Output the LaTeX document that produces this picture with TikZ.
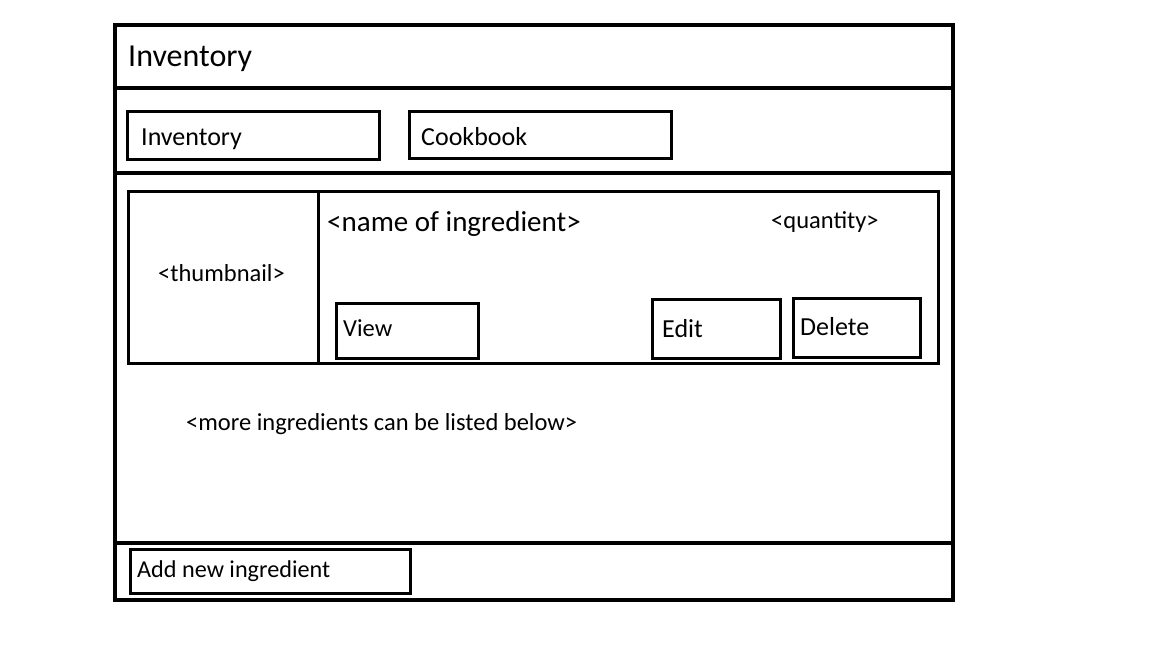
\documentclass[tikz,border=0pt]{standalone}
\usepackage{fontspec}
\setmainfont{Carlito}
\begin{document}
\begin{tikzpicture}[x=1pt,y=-1pt,
  frame/.style={draw=black,line width=4.3pt},
  box/.style={draw=black,line width=3pt},
  lbl/.style={anchor=base west,inner sep=0pt,text=black},
  big/.style={font=\fontsize{32}{36}\selectfont},
  mid/.style={font=\fontsize{26}{30}\selectfont},
  nam/.style={font=\fontsize{29}{33}\selectfont},
  sml/.style={font=\fontsize{24.5}{28}\selectfont},
  add/.style={font=\fontsize{24.2}{28}\selectfont}]
\useasboundingbox[fill=white] (0,0) rectangle (1152,648);
% outer frame and dividers
\draw[frame] (115,25) rectangle (953,600);
\draw[frame] (115,88) -- (953,88);
\draw[frame] (115,173) -- (955,173);
\draw[frame] (115,543) -- (953,543);
% tabs
\draw[box] (127,111) rectangle (379,159);
\draw[box] (409,111) rectangle (671,158);
% item card
\draw[box] (128,191) rectangle (938,363);
\draw[box] (318,191) -- (318,363);
\draw[box] (336,303) rectangle (478,358);
\draw[box] (652,299) rectangle (780,358);
\draw[box] (793,298) rectangle (920,357);
% add button
\draw[box] (130,549) rectangle (410,593);
% texts
\node[lbl,big] (title) at (128,66) {Inventory};
\node[lbl,mid] (tabinv) at (141,145) {Inventory};
\node[lbl,mid] (tabcook) at (421,145) {Cookbook};
\node[lbl,sml] (thumb) at (158,281) {<thumbnail>};
\node[lbl,nam] (name) at (327,231) {<name of ingredient>};
\node[lbl,sml] (qty) at (771,228) {<quantity>};
\node[lbl,sml] (view) at (343,336) {View};
\node[lbl,mid] (edit) at (662,337) {Edit};
\node[lbl,mid] (del) at (800,335) {Delete};
\node[lbl,sml] (more) at (186,430) {<more ingredients can be listed below>};
\node[lbl,add] (addnew) at (137,577) {Add new ingredient};
\end{tikzpicture}
\end{document}
